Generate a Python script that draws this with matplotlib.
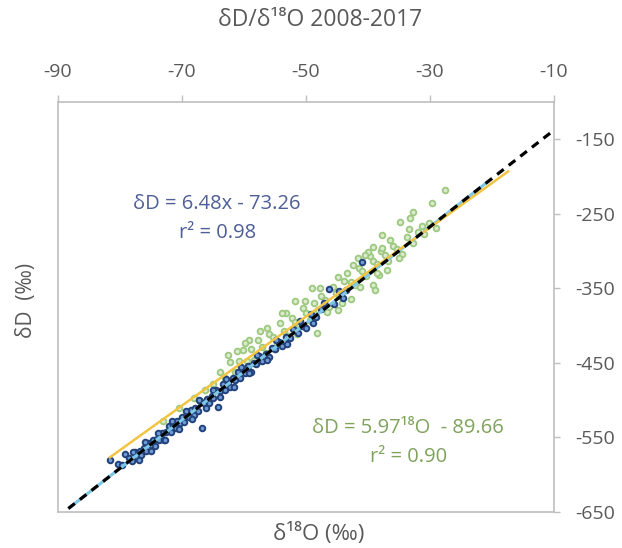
import matplotlib
matplotlib.use("Agg")
import matplotlib.pyplot as plt
import numpy as np

plt.rcParams['font.family'] = ['Open Sans', 'DejaVu Sans']
plt.rcParams['axes.unicode_minus'] = False

# Station series (blue)
blue_x = [-81.6, -79.1, -78.5, -78.0, -77.6, -77.2, -76.8, -76.5, -76.1, -75.8,
          -75.4, -75.0, -74.7, -74.3, -74.0, -73.6, -73.2, -72.9, -72.5, -72.1,
          -71.8, -71.4, -71.0, -70.7, -70.3, -70.0, -69.6, -69.2, -68.9, -68.5,
          -68.1, -67.8, -67.4, -67.0, -66.7, -66.3, -66.0, -65.6, -65.2, -64.9,
          -64.5, -64.1, -63.8, -63.4, -63.0, -62.6, -62.2, -61.8, -61.4, -61.0,
          -60.6, -60.2, -59.8, -59.3, -58.9, -58.4, -58.0, -57.5, -57.0, -56.5,
          -56.0, -55.5, -55.0, -54.4, -53.8, -53.2, -52.6, -52.0, -51.3, -50.6,
          -49.9, -49.2, -48.4, -47.6, -46.2, -45.5, -44.6, -43.5, -40.9,
          -80.3, -79.6, -77.9, -76.9, -75.9, -74.9, -73.9, -72.7, -71.6, -70.5,
          -69.4, -68.3, -67.2, -66.1, -65.0, -63.9, -62.8, -61.6, -60.4, -59.1,
          -57.8, -56.3, -54.8, -53.0, -51.0, -48.9, -47.0, -44.0]
blue_y = [-580, -572, -578, -582, -570, -576, -568, -574, -564, -568,
          -557, -560, -554, -561, -552, -553, -544, -553, -543, -535,
          -543, -534, -538, -528, -531, -522, -530, -521, -523, -513,
          -520, -511, -514, -501, -537, -505, -498, -504, -495, -497,
          -487, -509, -488, -479, -486, -477, -482, -471, -473, -463,
          -471, -462, -464, -454, -462, -450, -451, -441, -447, -438,
          -442, -430, -432, -422, -427, -416, -417, -405, -410, -400,
          -403, -385, -389, -378, -351, -371, -354, -353, -315,
          -586, -587, -569, -580, -556, -568, -544, -554, -528, -539,
          -515, -525, -500, -510, -486, -496, -472, -482, -456, -464,
          -439, -446, -419, -425, -394, -397, -370, -363]

# Snow pit series (green)
green_x = [-63.8, -63.0, -62.2, -61.5, -60.8, -60.1, -59.5, -58.9, -58.3, -57.7,
           -57.1, -56.5, -55.9, -55.3, -54.7, -54.1, -53.5, -52.9, -52.3, -51.7,
           -51.1, -50.5, -49.9, -49.3, -48.7, -48.1, -47.5, -46.9, -46.3, -45.7,
           -45.1, -44.5, -43.9, -43.3, -42.7, -42.1, -41.5, -40.9, -40.3, -39.7,
           -39.1, -38.5, -37.9, -37.3, -36.7, -36.0, -35.3, -34.5, -33.7, -32.8,
           -31.9, -30.9,
           -62.7, -61.1, -59.2, -57.4, -56.2, -55.0, -53.2, -51.4, -50.2, -49.0,
           -47.8, -46.6, -44.8, -44.2, -42.4, -41.2, -40.0, -38.2, -36.4, -35.0,
           -33.4, -30.2,
           -27.5, -29.6, -32.7, -33.2, -34.8, -31.3, -29.1, -37.7, -39.1, -37.7,
           -36.9, -38.5, -39.1, -38.8, -62.5, -59.8, -48.2, -44.9, -57.4,
           -41.6, -40.4, -49.0, -51.7, -42.8, -53.8,
           -73.0, -70.5, -68.0, -66.2, -65.0]
green_y = [-462, -470, -449, -463, -448, -433, -448, -432, -446, -420,
           -429, -437, -412, -416, -423, -397, -408, -414, -390, -395,
           -401, -377, -383, -392, -370, -379, -360, -366, -375, -348,
           -357, -361, -341, -330, -342, -346, -323, -327, -333, -307,
           -313, -318, -300, -306, -313, -293, -297, -304, -282, -290,
           -274, -277,
           -476, -434, -419, -448, -403, -432, -383, -412, -367, -395,
           -350, -382, -335, -370, -319, -348, -302, -332, -285, -309,
           -271, -262,
           -218, -236, -248, -256, -261, -267, -269, -279, -295, -296,
           -326, -330, -346, -352, -440, -423, -410, -379, -407,
           -309, -306, -350, -367, -364, -383,
           -528, -510, -497, -486, -478]

# Regression results
blue_slope, blue_icpt, blue_r2 = 6.48, -73.26, 0.98
green_slope, green_icpt, green_r2 = 5.97, -89.66, 0.90
blue_fit_range = [-88.3, -10.0]
blue_trend_range = [-88.0, -20.7]
green_fit_range = [-81.6, -17.4]

x_ticks = [-90, -70, -50, -30, -10]
y_ticks = [-650, -550, -450, -350, -250, -150]

grey = '#595959'
spine_c = '#BFBFBF'

fig = plt.figure(figsize=(6.22, 5.48), dpi=100)
ax = fig.add_axes([0.0928, 0.0657, 0.7979, 0.7487])

ax.scatter(green_x, green_y, s=17, facecolor='#DCEBCD', edgecolor='#9CC87F',
           linewidth=1.3, zorder=2)
ax.scatter(blue_x, blue_y, s=16, facecolor='#6E9BD6', edgecolor='#23427C',
           linewidth=1.4, zorder=3)

xb = np.array(blue_trend_range)
ax.plot(xb, blue_slope * xb + blue_icpt, color='#7CC8E6', lw=2.2, zorder=4)
xg = np.array(green_fit_range)
ax.plot(xg, green_slope * xg + green_icpt, color='#F2C443', lw=1.8, zorder=5)
xd = np.array(blue_fit_range)
ax.plot(xd, blue_slope * xd + blue_icpt, color='black', lw=2.3,
        linestyle=(0, (2.6, 2.0)), zorder=6)

ax.set_xlim(-90, -10)
ax.set_ylim(-650, -100)
ax.set_xticks(x_ticks)
ax.set_yticks(y_ticks)

ax.xaxis.tick_top()
ax.yaxis.tick_right()
ax.tick_params(axis='x', which='both', direction='out', length=5, width=1,
               color=spine_c, labelcolor=grey, labelsize=14, pad=10,
               top=True, bottom=False)
ax.tick_params(axis='y', which='both', direction='out', length=4, width=1,
               color=spine_c, labelcolor=grey, labelsize=14, pad=11,
               right=True, left=False)
for sp in ax.spines.values():
    sp.set_color(spine_c)
    sp.set_linewidth(1.2)

fig.text(0.514, 0.9635, 'δD/δ¹⁸O 2008-2017', ha='center', va='center',
         color=grey, fontsize=16.5)
fig.text(0.513, 0.026, 'δ¹⁸O (‰)', ha='center', va='center',
         color=grey, fontsize=16)
fig.text(0.0434, 0.4526, 'δD  (‰)', ha='center', va='center', rotation=90,
         color=grey, fontsize=15)

ax.text(-64.3, -237, f'δD = {blue_slope:.2f}x - {abs(blue_icpt):.2f}',
        ha='center', va='center', color='#4E5E96', fontsize=14.5)
ax.text(-64.3, -276, f'r² = {blue_r2:.2f}', ha='center', va='center',
        color='#4E5E96', fontsize=14.5)
ax.text(-33.5, -538, f'δD = {green_slope:.2f}¹⁸O  - {abs(green_icpt):.2f}',
        ha='center', va='center', color='#7FA35C', fontsize=14.5)
ax.text(-33.5, -576, f'r² = {green_r2:.2f}', ha='center', va='center',
        color='#7FA35C', fontsize=14.5)

fig.savefig('out.png', dpi=100)
